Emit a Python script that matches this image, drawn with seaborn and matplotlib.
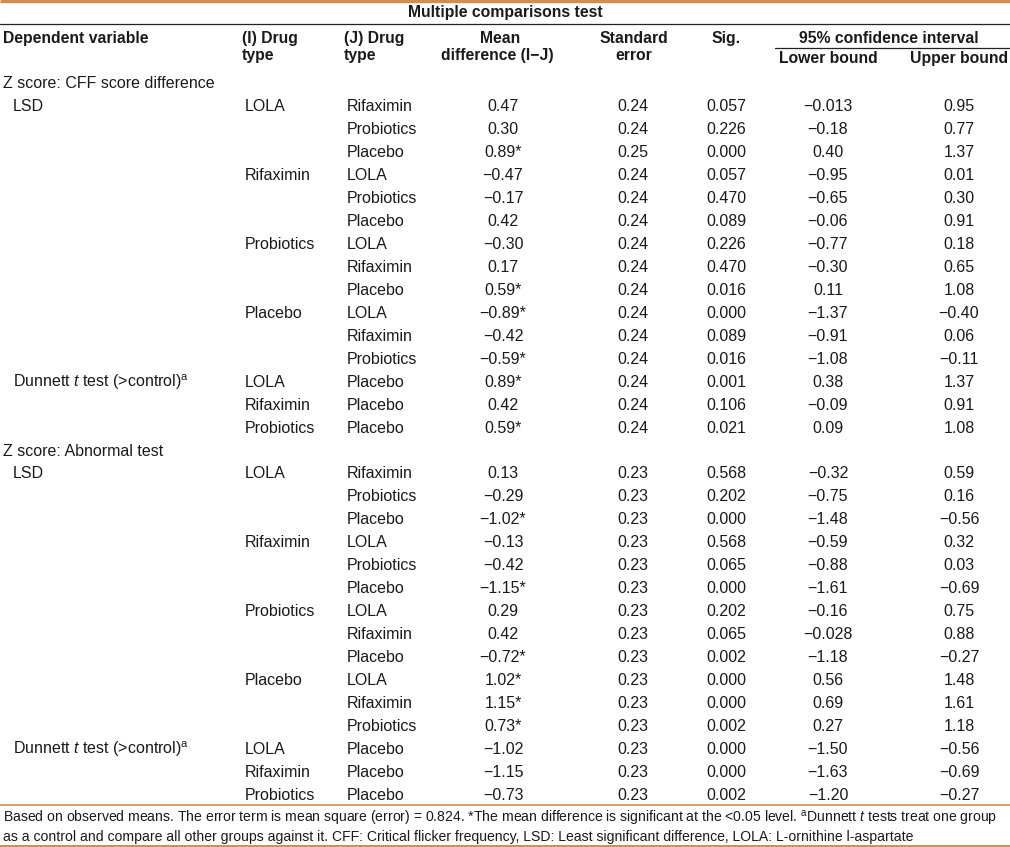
import matplotlib
matplotlib.use("Agg")
import matplotlib.pyplot as plt
import seaborn as sns
import pandas as pd

# ---- table content ----
title = "Multiple comparisons test"
groups = ["Z score: CFF score difference", "Z score: Abnormal test"]
tests = ["LSD", "Dunnett $\\mathit{t}$ test (>control)$^{\\mathrm{a}}$"]

i_drug = ["LOLA", "", "", "Rifaximin", "", "", "Probiotics", "", "", "Placebo", "", "",
          "LOLA", "Rifaximin", "Probiotics"]
j_drug = ["Rifaximin", "Probiotics", "Placebo", "LOLA", "Probiotics", "Placebo",
          "LOLA", "Rifaximin", "Placebo", "LOLA", "Rifaximin", "Probiotics",
          "Placebo", "Placebo", "Placebo"]

cff_mean = ["0.47", "0.30", "0.89*", "\u22120.47", "\u22120.17", "0.42", "\u22120.30", "0.17", "0.59*",
            "\u22120.89*", "\u22120.42", "\u22120.59*", "0.89*", "0.42", "0.59*"]
cff_se = ["0.24", "0.24", "0.25", "0.24", "0.24", "0.24", "0.24", "0.24", "0.24",
          "0.24", "0.24", "0.24", "0.24", "0.24", "0.24"]
cff_sig = ["0.057", "0.226", "0.000", "0.057", "0.470", "0.089", "0.226", "0.470", "0.016",
           "0.000", "0.089", "0.016", "0.001", "0.106", "0.021"]
cff_low = ["\u22120.013", "\u22120.18", "0.40", "\u22120.95", "\u22120.65", "\u22120.06", "\u22120.77",
           "\u22120.30", "0.11", "\u22121.37", "\u22120.91", "\u22121.08", "0.38", "\u22120.09", "0.09"]
cff_up = ["0.95", "0.77", "1.37", "0.01", "0.30", "0.91", "0.18", "0.65", "1.08",
          "\u22120.40", "0.06", "\u22120.11", "1.37", "0.91", "1.08"]

abn_mean = ["0.13", "\u22120.29", "\u22121.02*", "\u22120.13", "\u22120.42", "\u22121.15*", "0.29", "0.42",
            "\u22120.72*", "1.02*", "1.15*", "0.73*", "\u22121.02", "\u22121.15", "\u22120.73"]
abn_se = ["0.23"] * 15
abn_sig = ["0.568", "0.202", "0.000", "0.568", "0.065", "0.000", "0.202", "0.065", "0.002",
           "0.000", "0.000", "0.002", "0.000", "0.000", "0.002"]
abn_low = ["\u22120.32", "\u22120.75", "\u22121.48", "\u22120.59", "\u22120.88", "\u22121.61", "\u22120.16",
           "\u22120.028", "\u22121.18", "0.56", "0.69", "0.27", "\u22121.50", "\u22121.63", "\u22121.20"]
abn_up = ["0.59", "0.16", "\u22120.56", "0.32", "0.03", "\u22120.69", "0.75", "0.88", "\u22120.27",
          "1.48", "1.61", "1.18", "\u22120.56", "\u22120.69", "\u22120.27"]

footnote = [
    "Based on observed means. The error term is mean square (error) = 0.824. *The mean difference is "
    "significant at the <0.05 level. $^{\\mathrm{a}}$Dunnett $\\mathit{t}$ tests treat one group",
    "as a control and compare all other groups against it. CFF: Critical flicker frequency, "
    "LSD: Least significant difference, LOLA: L-ornithine l-aspartate",
]

# build one long frame, one row per printed line
rows = []
for g, (mean, se, sig, low, up) in zip(groups, [(cff_mean, cff_se, cff_sig, cff_low, cff_up),
                                                  (abn_mean, abn_se, abn_sig, abn_low, abn_up)]):
    rows.append(dict(dep=g, test="", i="", j="", mean="", se="", sig="", low="", up=""))
    for k in range(15):
        t = tests[0] if k == 0 else (tests[1] if k == 12 else "")
        rows.append(dict(dep="", test=t, i=i_drug[k], j=j_drug[k], mean=mean[k],
                         se=se[k], sig=sig[k], low=low[k], up=up[k]))
df = pd.DataFrame(rows)

# ---- drawing ----
sns.set_theme(style="white")
plt.rcParams["font.family"] = ["Liberation Sans", "DejaVu Sans"]
plt.rcParams["mathtext.fontset"] = "custom"
plt.rcParams["mathtext.rm"] = "Liberation Sans"
plt.rcParams["mathtext.it"] = "Liberation Sans:italic"

W, H = 1010, 847
fig = plt.figure(figsize=(W / 100, H / 100), dpi=100)
ax = fig.add_axes([0, 0, 1, 1])
ax.set_xlim(0, W)
ax.set_ylim(H, 0)
ax.axis("off")

ink = "#1a1a1a"
orange = "#d38d50"
fs = 11.5
fs_hdr = 11.3

ax.plot([0, W], [1.5, 1.5], color=orange, lw=2.4, solid_capstyle="butt")
ax.text(W / 2, 17, title, ha="center", va="baseline", fontsize=fs_hdr, weight="bold", color=ink)
ax.plot([0, W], [24, 24], color="#222222", lw=0.9)

hdr = dict(va="baseline", fontsize=fs_hdr, weight="bold", color=ink)
ax.text(3, 43, "Dependent variable", ha="left", **hdr)
ax.text(242, 43, "(I) Drug", ha="left", **hdr)
ax.text(242, 60, "type", ha="left", **hdr)
ax.text(344, 43, "(J) Drug", ha="left", **hdr)
ax.text(344, 60, "type", ha="left", **hdr)
ax.text(500, 43, "Mean", ha="center", **hdr)
ax.text(497, 60, "difference (I\u2212J)", ha="center", **hdr)
ax.text(634, 43, "Standard", ha="center", **hdr)
ax.text(634, 60, "error", ha="center", **hdr)
ax.text(726, 43, "Sig.", ha="center", **hdr)
ax.text(889, 43, "95% confidence interval", ha="center", **hdr)
ax.plot([775, W], [48, 48], color="#222222", lw=0.9)
ax.text(828, 63, "Lower bound", ha="center", **hdr)
ax.text(959, 63, "Upper bound", ha="center", **hdr)

y0, dy = 88, 22.97
body = dict(va="baseline", fontsize=fs, color=ink)
for r, row in df.iterrows():
    y = y0 + r * dy
    ax.text(3, y, row["dep"], ha="left", **body)
    ax.text(13, y, row["test"], ha="left", **body)
    ax.text(245, y, row["i"], ha="left", **body)
    ax.text(347, y, row["j"], ha="left", **body)
    ax.text(503, y, row["mean"], ha="center", **body)
    ax.text(633, y, row["se"], ha="center", **body)
    ax.text(726, y, row["sig"], ha="center", **body)
    ax.text(828, y, row["low"], ha="center", **body)
    ax.text(959, y, row["up"], ha="center", **body)

ax.plot([0, W], [805, 805], color=orange, lw=1.2)
for k, line in enumerate(footnote):
    ax.text(3, 822.5 + k * 18.5, line, ha="left", va="baseline", fontsize=10.1, color=ink)
ax.plot([0, W], [846, 846], color=orange, lw=1.4)

fig.savefig("out.png", dpi=100)
